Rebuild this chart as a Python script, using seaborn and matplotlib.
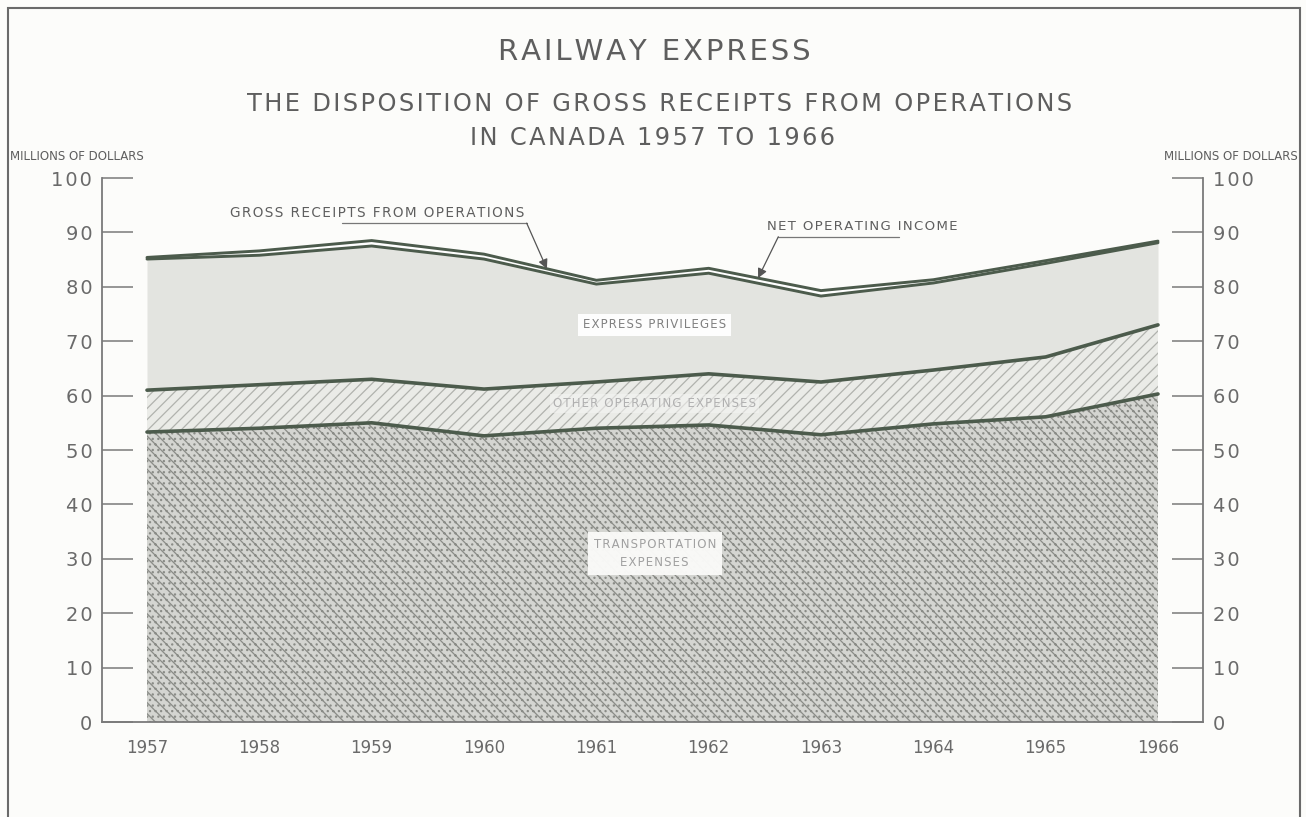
import matplotlib
matplotlib.use("Agg")
import matplotlib.pyplot as plt
import seaborn as sns
import pandas as pd
from matplotlib.patches import Rectangle

# ---- data (millions of dollars) ----
years = [1957, 1958, 1959, 1960, 1961, 1962, 1963, 1964, 1965, 1966]
gross_receipts = [85.4, 86.6, 88.5, 86.0, 81.2, 83.4, 79.3, 81.3, 84.8, 88.4]
net_operating_income = [0.3, 0.8, 1.0, 0.9, 0.7, 0.9, 1.0, 0.6, 0.5, 0.3]
transport_top = [53.3, 54.0, 55.0, 52.6, 54.0, 54.6, 52.8, 54.8, 56.1, 60.3]
other_top = [61.0, 62.0, 63.0, 61.2, 62.5, 64.0, 62.5, 64.7, 67.1, 73.0]
y_ticks = [0, 10, 20, 30, 40, 50, 60, 70, 80, 90, 100]

df = pd.DataFrame({
    "year": years,
    "gross": gross_receipts,
    "net": net_operating_income,
    "transport": transport_top,
    "other": other_top,
})
df["express"] = df["gross"] - df["net"]

sns.set_theme(style="white")
plt.rcParams["font.family"] = ["DejaVu Sans"]
plt.rcParams["hatch.linewidth"] = 0.9

W, H = 1306, 817
BG = "#fcfcfa"
TXT = "#5e5e5e"
LINE = "#4c5b4c"

def spaced(s):
    return "\u200a".join(s)

fig = plt.figure(figsize=(W / 100, H / 100), dpi=100, facecolor=BG)

ax_l, ax_r, ax_b, ax_t = 102, 1203, 722, 178
ax = fig.add_axes([ax_l / W, 1 - ax_b / H, (ax_r - ax_l) / W, (ax_b - ax_t) / H])
ax.set_facecolor(BG)

px_per_year = (1158 - 147) / 9.0
ax.set_xlim(1957 - (147 - ax_l) / px_per_year, 1966 + (ax_r - 1158) / px_per_year)
ax.set_ylim(0, 100)

# areas
ax.fill_between(df["year"], 0, df["transport"], facecolor="#d4d5d1",
                edgecolor="#8a8c87", hatch="\\\\\\...", linewidth=0, zorder=1)
ax.fill_between(df["year"], df["transport"], df["other"], facecolor="#eaebe7",
                edgecolor="#b0b2ad", hatch="///", linewidth=0, zorder=1)
ax.fill_between(df["year"], df["other"], df["express"], facecolor="#e3e4e0",
                linewidth=0, zorder=1)
ax.fill_between(df["year"], df["express"], df["gross"], facecolor="#ffffff",
                linewidth=0, zorder=1)

for col, lw in [("transport", 2.6), ("other", 2.6), ("express", 2.1), ("gross", 2.1)]:
    sns.lineplot(data=df, x="year", y=col, ax=ax, color=LINE, linewidth=lw,
                 zorder=3, legend=False)

ax.spines["top"].set_visible(False)
for s in ["left", "right", "bottom"]:
    ax.spines[s].set_color("#7a7a7a")
    ax.spines[s].set_linewidth(1.3)

ax.set_yticks(y_ticks)
ax.set_yticklabels([spaced(str(t)) for t in y_ticks])
ax.tick_params(axis="y", direction="in", length=22, width=1.1, color="#7a7a7a",
               left=True, right=True, labelleft=True, labelright=True,
               labelsize=14, labelcolor="#6a6a6a", pad=7)
ax.set_xticks(years)
ax.set_xticklabels([str(y) for y in years])
ax.tick_params(axis="x", direction="in", length=24, width=0.8, color="#a8a8a5",
               labelsize=12, labelcolor="#6a6a6a", pad=12)
ax.set_xlabel("")
ax.set_ylabel("")

# area labels
ax.text(1961.52, 73.0, spaced("EXPRESS PRIVILEGES"), ha="center", va="center",
        fontsize=8.5, color="#808080",
        bbox=dict(boxstyle="square,pad=0.4", facecolor="#ffffff", edgecolor="none", alpha=0.95),
        zorder=5)
ax.text(1961.52, 58.6, spaced("OTHER OPERATING EXPENSES"), ha="center", va="center",
        fontsize=8.5, color="#b0b0b0",
        bbox=dict(boxstyle="square,pad=0.25", facecolor="#f4f4f2", edgecolor="none", alpha=0.6),
        zorder=5)
ax.text(1961.52, 31.0, spaced("TRANSPORTATION") + "\n" + spaced("EXPENSES"),
        ha="center", va="center", fontsize=8.5, color="#a0a0a0", linespacing=1.5,
        bbox=dict(boxstyle="square,pad=0.5", facecolor="#fafaf8", edgecolor="none", alpha=0.97),
        zorder=5)

# annotations
ax.text(1957.74, 93.6, spaced("GROSS RECEIPTS FROM OPERATIONS"), ha="left", va="center",
        fontsize=9.8, color=TXT, zorder=5)
ax.plot([1958.74, 1960.38], [91.7, 91.7], color="#777777", lw=0.9, zorder=5)
ax.annotate("", xy=(1960.56, 83.3), xytext=(1960.38, 91.7),
            arrowprops=dict(arrowstyle="-|>", color="#555555", lw=0.9,
                            mutation_scale=14, shrinkA=0, shrinkB=0), zorder=6)

ax.text(1962.52, 91.0, spaced("NET OPERATING INCOME"), ha="left", va="center",
        fontsize=9.5, color=TXT, zorder=5)
ax.plot([1962.62, 1963.69], [89.2, 89.2], color="#777777", lw=0.9, zorder=5)
ax.annotate("", xy=(1962.44, 81.6), xytext=(1962.62, 89.2),
            arrowprops=dict(arrowstyle="-|>", color="#555555", lw=0.9,
                            mutation_scale=14, shrinkA=0, shrinkB=0), zorder=6)

def ftext(x, y, s, **kw):
    fig.text(x / W, 1 - y / H, s, **kw)

ftext(654, 52, spaced("RAILWAY EXPRESS"), ha="center", va="center", fontsize=21, color=TXT)
ftext(660, 104, spaced("THE DISPOSITION OF GROSS RECEIPTS FROM OPERATIONS"),
      ha="center", va="center", fontsize=17.4, color=TXT)
ftext(653, 138, spaced("IN CANADA 1957 TO 1966"), ha="center", va="center",
      fontsize=17.4, color=TXT)
ftext(10, 156, "MILLIONS OF DOLLARS", ha="left", va="center", fontsize=8.5, color=TXT)
ftext(1298, 156, "MILLIONS OF DOLLARS", ha="right", va="center", fontsize=8.5, color=TXT)

fig.patches.append(Rectangle((8 / W, -0.05), (1300 - 8) / W, 1.05 - 8 / H,
                             transform=fig.transFigure, fill=False,
                             edgecolor="#6a6a6a", linewidth=1.5))

fig.savefig("out.png", dpi=100, facecolor=BG)
